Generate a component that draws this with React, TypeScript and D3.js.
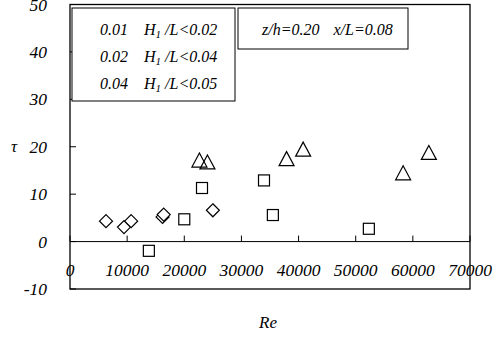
import React from "react";
import * as d3 from "d3";

// series: Re and tau
const diamondRe = [6300, 9450, 10700, 16200, 16400, 25000];
const diamondTau = [4.3, 3.05, 4.3, 5.2, 5.7, 6.6];

const squareRe = [13800, 20000, 23100, 33950, 35500, 52300];
const squareTau = [-1.95, 4.7, 11.3, 12.9, 5.6, 2.7];

const triangleRe = [22650, 24050, 37900, 40800, 58300, 62800];
const triangleTau = [17.2, 16.8, 17.5, 19.5, 14.5, 18.8];

const xTicks = [0, 10000, 20000, 30000, 40000, 50000, 60000, 70000];
const yTicks = [-10, 0, 10, 20, 30, 40, 50];

const legendLow = ["0.01", "0.02", "0.04"];
const legendHigh = ["0.02", "0.04", "0.05"];

const font = "Liberation Serif, Times New Roman, serif";

const T = (props: any) => (
  <text fontFamily={font} fontStyle="italic" fill="#000" {...props} />
);

const App = () => {
  const width = 494;
  const height = 338;
  const left = 70;
  const right = 470;
  const top = 4.5;
  const bottom = 289;

  const x = d3.scaleLinear().domain([0, 70000]).range([left, right]);
  const y = d3.scaleLinear().domain([-10, 50]).range([bottom, top]);

  const sq = 11;
  const dm = 6.5;
  const tw = 7.5;
  const th = 7;

  return (
    <svg width={width} height={height} style={{ position: "absolute", left: 0, top: 0 }}>
      <rect x={0} y={0} width={width} height={height} fill="#fff" />

      {/* plot frame */}
      <rect
        x={left}
        y={top}
        width={right - left}
        height={bottom - top}
        fill="none"
        stroke="#000"
        strokeWidth={1.3}
      />

      {/* zero line with ticks */}
      <line x1={left} x2={right} y1={y(0)} y2={y(0)} stroke="#000" strokeWidth={1} />
      {xTicks.map((t) => (
        <g key={"x" + t}>
          <line x1={x(t)} x2={x(t)} y1={y(0)} y2={y(0) - 6} stroke="#000" />
          <T x={x(t)} y={276} textAnchor="middle" fontSize={17.5}>
            {t}
          </T>
        </g>
      ))}

      {yTicks.map((t) => (
        <g key={"y" + t}>
          <line x1={left} x2={left + 6} y1={y(t)} y2={y(t)} stroke="#000" />
          <T x={47} y={y(t) + 6} textAnchor="end" fontSize={17.5}>
            {t}
          </T>
        </g>
      ))}

      <T x={14} y={y(20) + 5} textAnchor="middle" fontSize={17}>
        τ
      </T>
      <T x={268} y={328} textAnchor="middle" fontSize={17}>
        Re
      </T>

      {/* markers */}
      {diamondRe.map((r, i) => {
        const cx = x(r);
        const cy = y(diamondTau[i]);
        return (
          <path
            key={"d" + i}
            d={`M${cx},${cy - dm}L${cx + dm},${cy}L${cx},${cy + dm}L${cx - dm},${cy}Z`}
            fill="#fff"
            stroke="#000"
            strokeWidth={1.2}
          />
        );
      })}
      {squareRe.map((r, i) => (
        <rect
          key={"s" + i}
          x={x(r) - sq / 2}
          y={y(squareTau[i]) - sq / 2}
          width={sq}
          height={sq}
          fill="#fff"
          stroke="#000"
          strokeWidth={1.2}
        />
      ))}
      {triangleRe.map((r, i) => {
        const cx = x(r);
        const cy = y(triangleTau[i]);
        return (
          <path
            key={"t" + i}
            d={`M${cx},${cy - th}L${cx + tw},${cy + th}L${cx - tw},${cy + th}Z`}
            fill="none"
            stroke="#000"
            strokeWidth={1.2}
          />
        );
      })}

      {/* legend boxes */}
      <rect x={72} y={8} width={163} height={93} fill="#fff" stroke="#000" strokeWidth={1} />
      {legendLow.map((lo, i) => (
        <T key={"l" + i} x={100} y={35 + i * 27} fontSize={16}>
          {lo}
          <tspan dx={16}>H</tspan>
          <tspan fontSize={11} dy={3}>1</tspan>
          <tspan dy={-3}>{" /L<" + legendHigh[i]}</tspan>
        </T>
      ))}

      <rect x={238} y={8} width={170} height={41} fill="#fff" stroke="#000" strokeWidth={1} />
      <T x={262} y={35} fontSize={16}>
        z/h=0.20
        <tspan dx={14}>x/L=0.08</tspan>
      </T>
    </svg>
  );
};

export default App;
